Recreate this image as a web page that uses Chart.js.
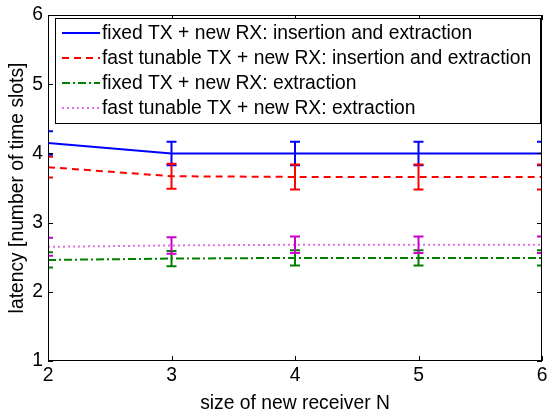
<!DOCTYPE html>
<html>
<head>
<meta charset="utf-8">
<script src="https://cdn.jsdelivr.net/npm/chart.js@4.4.0/dist/chart.umd.min.js"></script>
<style>
html, body { margin: 0; padding: 0; background: #fff; }
#wrap { width: 548px; height: 410px; }
</style>
</head>
<body>
<div id="wrap"><canvas id="chart"></canvas></div>
<script>
var receiverSizes = [2, 3, 4, 5, 6];
var seriesLabels = [
	'fixed TX + new RX: insertion and extraction',
	'fast tunable TX + new RX: insertion and extraction',
	'fixed TX + new RX: extraction',
	'fast tunable TX + new RX: extraction'
];
var fixedBoth = [4.15, 4.0, 4.0, 4.0, 4.0];
var fixedBothErr = [0.17, 0.17, 0.17, 0.17, 0.17];
var tunableBoth = [3.80, 3.67, 3.66, 3.66, 3.66];
var tunableBothErr = [0.15, 0.18, 0.18, 0.18, 0.18];
var fixedExtract = [2.46, 2.48, 2.49, 2.49, 2.49];
var fixedExtractErr = [0.11, 0.11, 0.11, 0.11, 0.11];
var tunableExtract = [2.65, 2.67, 2.68, 2.68, 2.68];
var tunableExtractErr = [0.13, 0.12, 0.12, 0.12, 0.12];
var yTicks = [1, 2, 3, 4, 5, 6];

var FONT = '"Liberation Sans", Arial, Helvetica, sans-serif';
var FSIZE = 19.3;

function points(values) {
	return values.map(function(v, i) { return { x: receiverSizes[i], y: v }; });
}

function series(i, values, errs, color, lineColor, dash) {
	return {
		label: seriesLabels[i],
		data: points(values),
		errors: errs,
		errColor: color,
		borderColor: lineColor,
		borderWidth: 2,
		borderDash: dash,
		pointRadius: 0,
		tension: 0,
		fill: false
	};
}

var errorBars = {
	id: 'errorBars',
	afterDatasetsDraw: function(chart) {
		var ctx = chart.ctx, area = chart.chartArea, y = chart.scales.y;
		ctx.save();
		ctx.beginPath();
		ctx.rect(area.left, area.top, area.right - area.left, area.bottom - area.top);
		ctx.clip();
		ctx.lineWidth = 2;
		ctx.setLineDash([]);
		chart.data.datasets.forEach(function(ds, di) {
			var meta = chart.getDatasetMeta(di);
			ctx.strokeStyle = ds.errColor;
			meta.data.forEach(function(pt, i) {
				var v = ds.data[i].y, e = ds.errors[i];
				var top = y.getPixelForValue(v + e), bot = y.getPixelForValue(v - e);
				var px = pt.x, cap = 5;
				ctx.beginPath();
				ctx.moveTo(px, top); ctx.lineTo(px, bot);
				ctx.moveTo(px - cap, top); ctx.lineTo(px + cap, top);
				ctx.moveTo(px - cap, bot); ctx.lineTo(px + cap, bot);
				ctx.stroke();
			});
		});
		ctx.restore();
	}
};

var boxAxes = {
	id: 'boxAxes',
	afterDraw: function(chart) {
		var ctx = chart.ctx, a = chart.chartArea, t = 5;
		var xs = chart.scales.x, ys = chart.scales.y;
		ctx.save();
		ctx.strokeStyle = '#000';
		ctx.lineWidth = 1;
		ctx.strokeRect(a.left + 0.5, a.top + 0.5, a.right - a.left - 1, a.bottom - a.top - 1);
		ctx.beginPath();
		xs.ticks.forEach(function(tk) {
			var px = Math.round(xs.getPixelForValue(tk.value)) + 0.5;
			ctx.moveTo(px, a.bottom); ctx.lineTo(px, a.bottom - t);
			ctx.moveTo(px, a.top); ctx.lineTo(px, a.top + t);
		});
		ys.ticks.forEach(function(tk) {
			var py = Math.round(ys.getPixelForValue(tk.value)) + 0.5;
			ctx.moveTo(a.left, py); ctx.lineTo(a.left + t, py);
			ctx.moveTo(a.right, py); ctx.lineTo(a.right - t, py);
		});
		ctx.stroke();
		ctx.restore();
	}
};

var boxLegend = {
	id: 'boxLegend',
	afterDraw: function(chart) {
		var ctx = chart.ctx, a = chart.chartArea;
		var lx = a.left + 7, ly = a.top + 3, lw = a.right - a.left - 9, lh = 105;
		ctx.save();
		ctx.fillStyle = '#fff';
		ctx.fillRect(lx, ly, lw, lh);
		ctx.strokeStyle = '#000';
		ctx.lineWidth = 1;
		ctx.setLineDash([]);
		ctx.strokeRect(lx + 0.5, ly + 0.5, lw, lh);
		ctx.font = FSIZE + 'px ' + FONT;
		ctx.textBaseline = 'middle';
		ctx.fillStyle = '#000';
		chart.data.datasets.forEach(function(ds, i) {
			var cy = ly + 15 + i * 25;
			ctx.strokeStyle = ds.borderColor;
			ctx.lineWidth = 2;
			ctx.setLineDash(ds.borderDash || []);
			ctx.beginPath();
			ctx.moveTo(lx + 7, cy); ctx.lineTo(lx + 45, cy);
			ctx.stroke();
			ctx.fillText(ds.label, lx + 47, cy + 1);
		});
		ctx.restore();
	}
};

new Chart(document.getElementById('chart').getContext('2d'), {
	type: 'line',
	data: {
		datasets: [
			series(0, fixedBoth, fixedBothErr, '#0000ff', '#0000ff', []),
			series(1, tunableBoth, tunableBothErr, '#ff0000', '#ff0000', [7, 5]),
			series(2, fixedExtract, fixedExtractErr, '#008000', '#008000', [8, 3, 2, 3]),
			series(3, tunableExtract, tunableExtractErr, '#cc00cc', '#e070e0', [2, 3])
		]
	},
	options: {
		responsive: true,
		maintainAspectRatio: false,
		animation: false,
		layout: { padding: { left: 0, top: 15, right: 6, bottom: 0 } },
		plugins: { legend: { display: false }, tooltip: { enabled: false } },
		scales: {
			x: {
				type: 'linear',
				min: 2,
				max: 6,
				grid: { display: false, drawTicks: false },
				border: { display: false },
				ticks: { stepSize: 1, padding: 3, color: '#000', font: { family: FONT, size: FSIZE } },
				title: { display: true, text: 'size of new receiver N', color: '#000', padding: 0, font: { family: FONT, size: FSIZE, lineHeight: 0.7 } },
				afterFit: function(s) { s.height = 49; s.paddingLeft = 0; s.paddingRight = 0; }
			},
			y: {
				min: 1,
				max: 6,
				grid: { display: false, drawTicks: false },
				border: { display: false },
				afterBuildTicks: function(s) { s.ticks = yTicks.map(function(v) { return { value: v }; }); },
				ticks: { padding: 5, color: '#000', font: { family: FONT, size: FSIZE } },
				title: { display: true, text: 'latency [number of time slots]', color: '#000', padding: { top: 6 }, font: { family: FONT, size: FSIZE } },
				afterFit: function(s) { s.width = 48; s.paddingTop = 0; s.paddingBottom = 0; }
			}
		}
	},
	plugins: [errorBars, boxAxes, boxLegend]
});
</script>
</body>
</html>
